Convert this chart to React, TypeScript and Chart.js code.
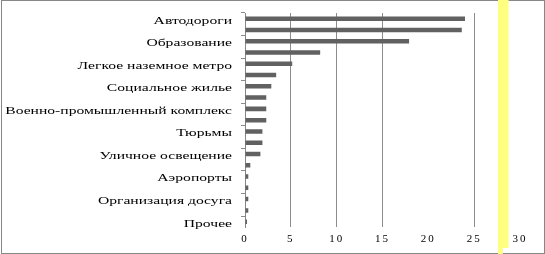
import { useEffect, useRef } from "react";
import { Chart, registerables } from "chart.js";

Chart.register(...registerables);

const categories = [
  "Автодороги",
  "Здравоохранение",
  "Образование",
  "Железные дороги",
  "Легкое наземное метро",
  "Водоснабжение",
  "Социальное жилье",
  "Утилизация отходов",
  "Военно-промышленный комплекс",
  "Мосты и тоннели",
  "Тюрьмы",
  "Государственные здания",
  "Уличное освещение",
  "Порты",
  "Аэропорты",
  "Спортивные объекты",
  "Организация досуга",
  "Информационные технологии",
  "Прочее",
];

const values = [
  24.0, 23.65, 17.9, 8.2, 5.15, 3.4, 2.87, 2.32, 2.32, 2.32, 1.9, 1.9, 1.68,
  0.58, 0.36, 0.36, 0.36, 0.36, 0.22,
];

const X_MIN = 0;
const X_MAX = 30;
const X_STEP = 5;
const HIDDEN_GRID_VALUES = [0, 20, 30];
const LABEL_EVERY = 2;
const HIGHLIGHT_FROM = 27.6;
const HIGHLIGHT_TO = 28.75;

const FONT_FAMILY = "'Liberation Serif', 'Times New Roman', serif";

export default function App() {
  const ref = useRef<HTMLCanvasElement>(null);

  useEffect(() => {
    const canvas = ref.current;
    if (!canvas) return;

    const decor = {
      id: "decor",
      beforeDraw(chart: any) {
        (chart.ctx as any).letterSpacing = "2px";
      },
      afterDraw(chart: any) {
        const { ctx, chartArea, scales } = chart;
        ctx.save();
        (ctx as any).letterSpacing = "0px";
        const ys = scales.y;
        ctx.font = "11px " + FONT_FAMILY;
        ctx.fillStyle = "#000";
        ctx.textAlign = "right";
        ctx.textBaseline = "middle";
        categories.forEach((c, i) => {
          if (i % LABEL_EVERY !== 0) return;
          const y = ys.getPixelForValue(i);
          ctx.save();
          ctx.translate(chartArea.left - 13, y + 2);
          ctx.scale(1.42, 1);
          ctx.fillText(c, 0, 0);
          ctx.restore();
        });
        // frame
        ctx.strokeStyle = "#878787";
        ctx.lineWidth = 1;
        ctx.strokeRect(1.5, 0.5, chart.width - 2, chart.height - 1);
        // highlight band
        const xs = scales.x;
        const x0 = xs.getPixelForValue(HIGHLIGHT_FROM);
        const x1 = xs.getPixelForValue(HIGHLIGHT_TO);
        ctx.fillStyle = "#ffff80";
        ctx.fillRect(x0, 0, x1 - x0, chart.height - 6);
        ctx.fillRect(x0, chart.height - 6, (x1 - x0) * 0.45, 6);
        ctx.restore();
      },
    };

    const chart = new Chart(canvas, {
      type: "bar",
      data: {
        labels: categories,
        datasets: [
          {
            data: values,
            backgroundColor: "#616161",
            barPercentage: 0.4,
            categoryPercentage: 1,
          },
        ],
      },
      options: {
        indexAxis: "y",
        responsive: false,
        animation: false,
        layout: { padding: { top: 13, right: 25, bottom: 3.5, left: 0 } },
        plugins: { legend: { display: false }, tooltip: { enabled: false } },
        scales: {
          x: {
            min: X_MIN,
            max: X_MAX,
            ticks: {
              stepSize: X_STEP,
              color: "#000",
              font: { family: FONT_FAMILY, size: 11 },
              padding: 5,
              maxRotation: 0,
            },
            grid: {
              color: (c: any) =>
                c.tick && HIDDEN_GRID_VALUES.includes(c.tick.value)
                  ? "transparent"
                  : "#8c8c8c",
              drawTicks: false,
            },
            border: { display: false },
          },
          y: {
            ticks: { display: false },
            grid: {
              offset: true,
              drawOnChartArea: false,
              tickLength: 4,
              color: (c: any) =>
                typeof c.index === "number" && c.index % 2 === 0
                  ? "#8c8c8c"
                  : "transparent",
            },
            border: { display: true, color: "#868686" },
            afterFit: (s: any) => {
              s.width = 245;
            },
          },
        },
      } as any,
      plugins: [decor],
    });

    let alive = true;
    if ((document as any).fonts && (document as any).fonts.load) {
      (document as any).fonts
        .load("11px 'Liberation Serif'", "Автодороги 0123")
        .then(() => {
          if (alive) chart.update();
        })
        .catch(() => {});
    }

    return () => {
      alive = false;
      chart.destroy();
    };
  }, []);

  return (
    <div style={{ position: "absolute", left: 0, top: 0, width: 545, height: 254 }}>
      <canvas ref={ref} width={545} height={254} style={{ display: "block" }} />
    </div>
  );
}
